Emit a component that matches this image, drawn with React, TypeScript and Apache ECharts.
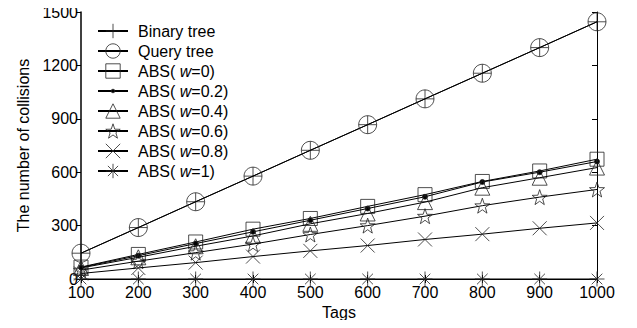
import React, { useEffect, useRef } from "react";
import * as echarts from "echarts";

const tags = [100, 200, 300, 400, 500, 600, 700, 800, 900, 1000];
const binaryTree = [145, 289, 434, 578, 723, 867, 1012, 1156, 1300, 1445];
const queryTree = [145, 289, 434, 578, 723, 867, 1012, 1156, 1300, 1445];
const absW0 = [67, 138, 208, 280, 340, 408, 474, 548, 607, 673];
const absW02 = [65, 131, 199, 265, 330, 396, 462, 545, 600, 660];
const absW04 = [62, 122, 184, 242, 310, 368, 432, 513, 569, 626];
const absW06 = [50, 100, 148, 196, 250, 300, 353, 412, 460, 503];
const absW08 = [31, 62, 92, 126, 158, 188, 222, 252, 285, 315];
const absW1 = [0, 0, 0, 0, 0, 0, 0, 0, 0, 0];
const seriesNames = [
  "Binary tree",
  "Query tree",
  "ABS( w=0)",
  "ABS( w=0.2)",
  "ABS( w=0.4)",
  "ABS( w=0.6)",
  "ABS( w=0.8)",
  "ABS( w=1)",
];
const xTicks = { min: 100, max: 1000, interval: 100 };
const yTicks = { min: 0, max: 1500, interval: 300 };

const PLUS = "path://M10,0 L10,20 M0,10 L20,10";
const STAR =
  "path://M10,0 L12.35,6.76 L19.51,6.91 L13.8,11.24 L15.88,18.09 L10,14 L4.12,18.09 L6.2,11.24 L0.49,6.91 L7.65,6.76 Z";
const XMARK = "path://M0,0 L20,20 M20,0 L0,20";
const ASTER = "path://M10,0 L10,20 M0,10 L20,10 M2.9,2.9 L17.1,17.1 M17.1,2.9 L2.9,17.1";
const DOT =
  "path://M0,0 M20,20 M7.5,10 A2.5,2.5 0 1,1 12.5,10 A2.5,2.5 0 1,1 7.5,10 Z";

export default function App() {
  const ref = useRef<HTMLDivElement>(null);
  useEffect(() => {
    if (!ref.current) return;
    const chart = echarts.init(ref.current, null, { renderer: "svg" });
    const font = "Liberation Sans, Arial, sans-serif";
    const fs = 16;
    const values = [binaryTree, queryTree, absW0, absW02, absW04, absW06, absW08, absW1];
    const symbols = [PLUS, "circle", "rect", DOT, "triangle", STAR, XMARK, ASTER];
    const sizes = [18, 18, 14, 20, 15, 15, 14, 15];
    const fills = ["transparent", "transparent", "transparent", "#000", "transparent", "transparent", "transparent", "transparent"];
    const series = seriesNames.map((name, i) => ({
      name,
      type: "line",
      xAxisIndex: 0,
      yAxisIndex: 0,
      data: tags.map((t, j) => [t, values[i][j]]),
      symbol: symbols[i],
      symbolSize: sizes[i],
      showAllSymbol: true,
      lineStyle: { color: "#000", width: 1 },
      itemStyle: { color: fills[i], borderColor: "#222", borderWidth: 0.8 },
      emphasis: { disabled: true },
      z: 2 + i,
    }));
    chart.setOption({
      animation: false,
      backgroundColor: "#fff",
      textStyle: { fontFamily: font },
      grid: { left: 81, right: 40, top: 12, bottom: 49 },
      legend: {
        orient: "vertical",
        left: 97,
        top: 22,
        padding: 0,
        itemWidth: 30,
        itemHeight: 18,
        itemGap: 2,
        data: seriesNames,
        itemStyle: { borderWidth: 0.8, borderColor: "#222" },
        textStyle: {
          fontSize: fs,
          lineHeight: 18,
          color: "#000",
          fontFamily: font,
          padding: [0, 0, 0, 5],
          rich: { i: { fontStyle: "italic", fontSize: fs, lineHeight: 18, fontFamily: font, color: "#000" } },
        },
        formatter: (n: string) => n.replace("w=", "{i|w}="),
      },
      xAxis: [
        {
          type: "value",
          position: "bottom",
          ...xTicks,
          name: "Tags",
          nameLocation: "middle",
          nameGap: 25,
          nameTextStyle: { fontSize: fs, color: "#000", fontFamily: font },
          axisLine: { lineStyle: { color: "#000", width: 1 } },
          axisTick: { inside: true, length: 4, lineStyle: { color: "#000" } },
          axisLabel: { fontSize: fs, color: "#000", margin: 5, fontFamily: font, formatter: (v: number) => String(v) },
          splitLine: { show: false },
        },
        {
          type: "value",
          position: "top",
          ...xTicks,
          axisLine: { lineStyle: { color: "#000", width: 1 } },
          axisTick: { inside: true, length: 4, lineStyle: { color: "#000" } },
          axisLabel: { show: false },
          splitLine: { show: false },
        },
      ],
      yAxis: [
        {
          type: "value",
          position: "left",
          ...yTicks,
          name: "The number of collisions",
          nameLocation: "middle",
          nameGap: 50,
          nameTextStyle: { fontSize: fs, color: "#000", fontFamily: font },
          axisLine: { lineStyle: { color: "#000", width: 1.5 } },
          axisTick: { inside: false, length: 5, lineStyle: { color: "#000" } },
          axisLabel: { fontSize: fs, color: "#000", margin: 3, fontFamily: font, formatter: (v: number) => String(v) },
          splitLine: { show: false },
        },
        {
          type: "value",
          position: "right",
          ...yTicks,
          axisLine: { lineStyle: { color: "#000", width: 1 } },
          axisTick: { inside: true, length: 5, lineStyle: { color: "#000" } },
          axisLabel: { show: false },
          splitLine: { show: false },
        },
      ],
      series,
    });
    return () => chart.dispose();
  }, []);
  return <div ref={ref} style={{ width: 637, height: 328, margin: -8 }} />;
}
